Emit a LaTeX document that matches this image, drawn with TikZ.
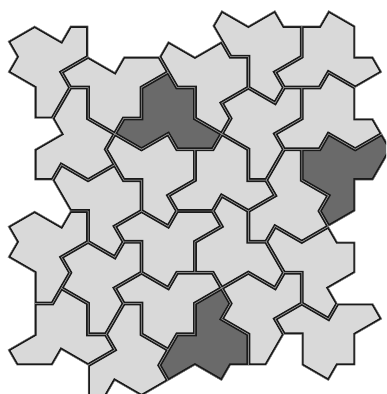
\documentclass[tikz,border=0pt]{standalone}
\definecolor{tilelight}{HTML}{D9D9D9}
\definecolor{tiledark}{HTML}{6A6A6A}
\definecolor{tileedge}{HTML}{1A1A1A}
\definecolor{tilegap}{HTML}{8C8C8C}
\newcommand{\hatpath}{(0,0)--(0,-1)--(0,-2)--(-1,-2)--(-2,0)--(-4,1)--(-4,2)--(-5,3)--(-4,4)--(-2,3)--(-2,4)--(-1,4)--(0,2)--(-1,1)--cycle}
\def\tilelist{0/0/0/1/tilelight,
2/2/120/1/tilelight,
8/-4/60/-1/tiledark,
0/-2/180/1/tilelight,
4/-8/240/1/tilelight,
6/-6/240/1/tilelight,
8/2/240/1/tilelight,
14/0/300/1/tilelight,
14/-4/0/1/tilelight,
16/-4/300/1/tilelight,
20/-6/120/-1/tiledark,
6/-12/0/1/tilelight,
10/-14/0/1/tilelight,
8/-18/300/1/tilelight,
10/-16/180/1/tilelight,
10/-8/120/1/tilelight,
12/-8/300/1/tilelight,
14/-6/180/1/tilelight,
16/-10/60/1/tilelight,
14/-16/300/-1/tiledark,
20/-16/0/1/tilelight,
18/-12/240/1/tilelight,
22/-14/120/1/tilelight,
12/-12/120/1/tilelight,
6/0/240/1/tilelight}
\tikzset{
  hatedge/.style={draw=tileedge, line width=3.8pt, line join=miter},
  hatgap/.style={draw=tilegap, line width=0.45pt, line join=miter},
}
\begin{document}
\begin{tikzpicture}[x={(17.81pt,0pt)}, y={(8.905pt,15.424pt)}]
\useasboundingbox (0pt,0pt) rectangle (386pt,394pt);
\clip (0pt,0pt) rectangle (386pt,394pt);
\begin{scope}[shift={(70.26pt,306.4pt)}]
\foreach \i/\j/\r/\f/\c in \tilelist {
  \begin{scope}[shift={(\i,\j)}, rotate=\r, xscale=\f]
    \fill[\c] \hatpath;
    \begin{scope}
      \clip \hatpath;
      \draw[hatedge] \hatpath;
    \end{scope}
  \end{scope}
}
\foreach \i/\j/\r/\f/\c in \tilelist {
  \draw[hatgap, shift={(\i,\j)}, rotate=\r, xscale=\f] \hatpath;
}
\end{scope}
\end{tikzpicture}
\end{document}
